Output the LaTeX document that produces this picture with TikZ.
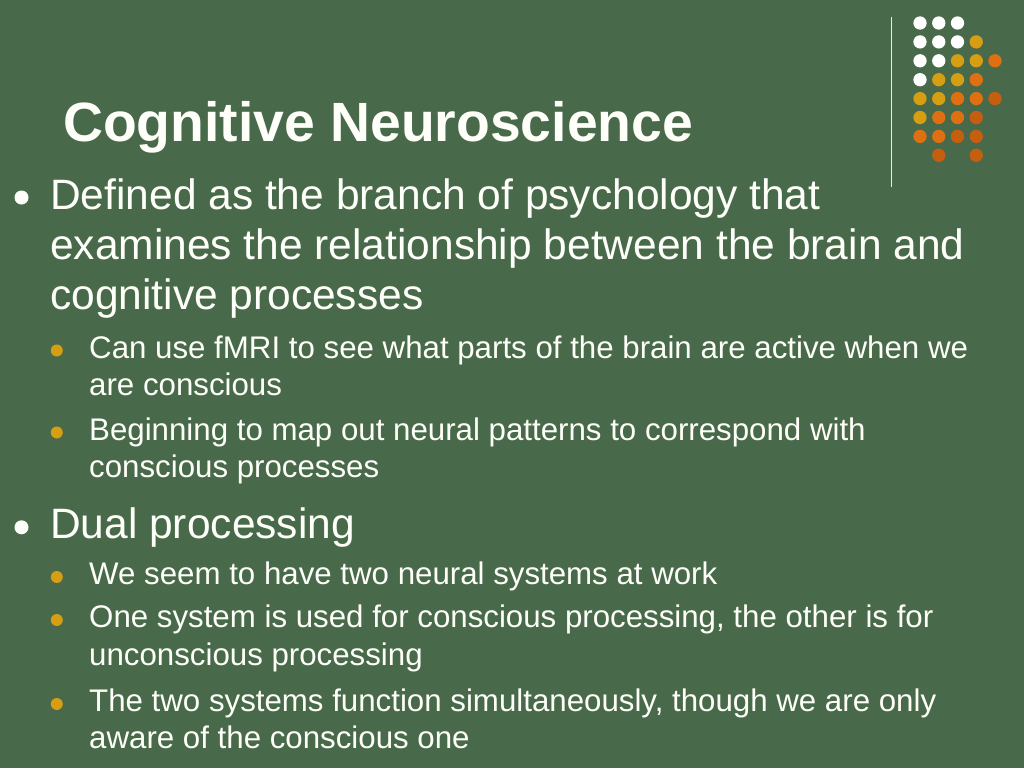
\documentclass[tikz,border=0pt]{standalone}
\usepackage{fontspec}
\setmainfont{Liberation Sans}
\definecolor{bg}{RGB}{72,106,74}
\definecolor{dgold}{RGB}{214,158,18}
\definecolor{dorange}{RGB}{222,112,18}
\definecolor{dred}{RGB}{198,94,16}
\definecolor{txt}{RGB}{255,255,250}
\definecolor{vline}{RGB}{235,240,225}
\tikzset{
  title/.style={anchor=base west,inner sep=0pt,text=txt,font=\fontsize{55.3}{60}\selectfont\bfseries},
  mainl/.style={anchor=base west,inner sep=0pt,text=txt,font=\fontsize{42.5}{50}\selectfont},
  subl/.style={anchor=base west,inner sep=0pt,text=txt,font=\fontsize{31.25}{34}\selectfont},
  mdot/.style={circle,fill=txt,inner sep=0pt,minimum size=14pt},
  sdot/.style={circle,fill=dgold,inner sep=0pt,minimum size=12pt},
  gdot/.style={circle,inner sep=0pt,minimum size=13.3pt},
}
\begin{document}
\begin{tikzpicture}[x=1pt,y=-1pt]
\fill[bg] (0,0) rectangle (1024,768);
\useasboundingbox (0,0) rectangle (1024,768);
% vertical line
\coordinate (vt) at (891.5,17);
\coordinate (vb) at (891.5,187);
\draw[vline,line width=1.3pt] (vt) -- (vb);
% dot grid
\foreach \c/\r/\col in {1/1/white,2/1/white,3/1/white,
  1/2/white,2/2/white,3/2/white,4/2/dgold,
  1/3/white,2/3/white,3/3/dgold,4/3/dgold,5/3/dorange,
  1/4/white,2/4/dgold,3/4/dgold,4/4/dorange,
  1/5/dgold,2/5/dgold,3/5/dorange,4/5/dorange,5/5/dred,
  1/6/dgold,2/6/dorange,3/6/dorange,4/6/dred,
  1/7/dorange,2/7/dorange,3/7/dred,4/7/dred,
  2/8/dred,4/8/dred}{
  \node[gdot,fill=\col] (g\c\r) at ({920+18.75*(\c-1)},{23+18.9*(\r-1)}) {};
}
% title
\node[title] (t) at (63,141.5) {Cognitive Neuroscience};
% first bullet
\node[mdot] (b1) at (21.5,197.5) {};
\node[mainl] (m1a) at (50,209) {Defined as the branch of psychology that};
\node[mainl] (m1b) at (50,259) {examines the relationship between the brain and};
\node[mainl] (m1c) at (50,309) {cognitive processes};
\node[sdot] (s1) at (56.8,350.5) {};
\node[subl] (s1a) at (89,358) {Can use fMRI to see what parts of the brain are active when we};
\node[subl] (s1b) at (89,395) {are conscious};
\node[sdot] (s2) at (56.8,432.5) {};
\node[subl] (s2a) at (89,440) {Beginning to map out neural patterns to correspond with};
\node[subl] (s2b) at (89,477) {conscious processes};
% second bullet
\node[mdot] (b2) at (21.5,527.3) {};
\node[mainl] (m2a) at (50,538) {Dual processing};
\node[sdot] (s3) at (56.8,577) {};
\node[subl] (s3a) at (89,584.5) {We seem to have two neural systems at work};
\node[sdot] (s4) at (56.8,620) {};
\node[subl] (s4a) at (89,627.5) {One system is used for conscious processing, the other is for};
\node[subl] (s4b) at (89,665) {unconscious processing};
\node[sdot] (s5) at (56.8,704) {};
\node[subl] (s5a) at (89,711.5) {The two systems function simultaneously, though we are only};
\node[subl] (s5b) at (89,748.5) {aware of the conscious one};
\end{tikzpicture}
\end{document}
